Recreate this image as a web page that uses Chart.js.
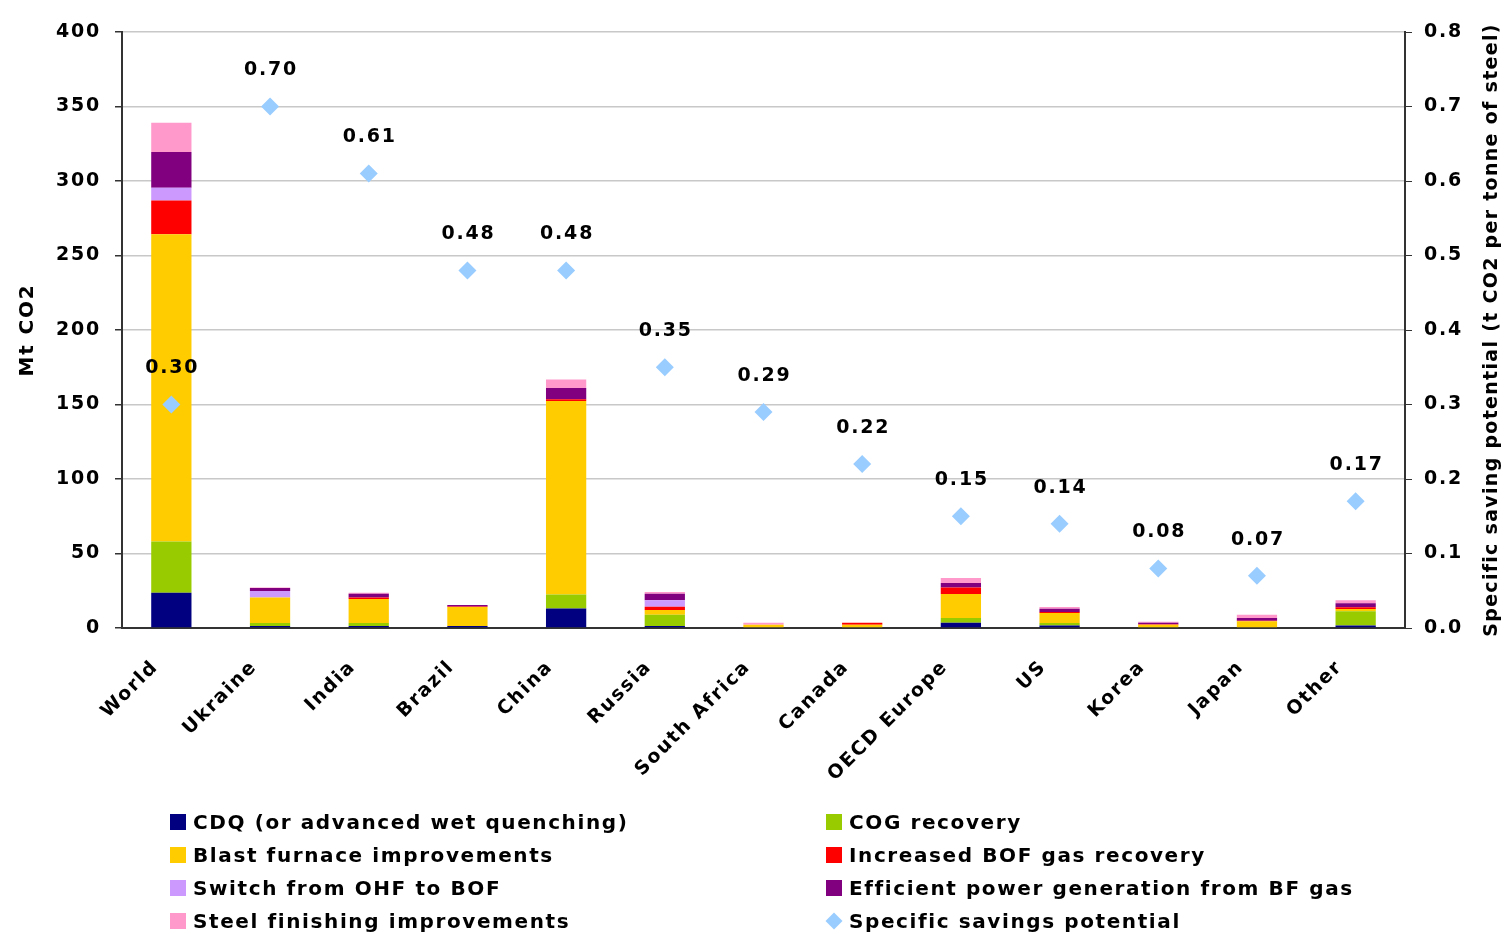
<!DOCTYPE html>
<html>
<head>
<meta charset="utf-8">
<script src="https://cdn.jsdelivr.net/npm/chart.js@4.4.1/dist/chart.umd.min.js"></script>
<style>
  html, body { margin: 0; padding: 0; background: #fff; }
  #wrap { position: relative; width: 1508px; height: 934px; }
  #legend { position: absolute; left: 0; top: 0; width: 1508px; height: 934px; pointer-events: none;
            font-family: "DejaVu Sans", sans-serif; font-weight: bold; font-size: 20px;
            letter-spacing: 1.6px; color: #000; }
  .item { position: absolute; height: 24px; line-height: 24px; white-space: nowrap; }
  .swatch { position: absolute; left: 0; top: 4px; width: 16px; height: 16px; }
  .diamond { position: absolute; left: 2px; top: 6px; width: 12px; height: 12px; transform: rotate(45deg); }
  .item span { position: absolute; left: 23px; top: 0; }
</style>
</head>
<body>
<div id="wrap">
  <canvas id="steelChart"></canvas>
  <div id="legend"></div>
</div>
<script>
const categories = ["World", "Ukraine", "India", "Brazil", "China", "Russia", "South Africa",
  "Canada", "OECD Europe", "US", "Korea", "Japan", "Other"];

// Mt CO2 savings by measure
const cdq          = [23.7, 1.3, 1.3, 1.3, 13.1, 1.3, 0, 0, 3.6, 1.6, 0, 0, 1.6];
const cogRecovery  = [34.3, 2.0, 2.0, 0, 9.4, 7.6, 0, 0, 3.1, 1.8, 0, 0, 9.6];
const blastFurnace = [206.2, 17.2, 16.1, 12.8, 129.8, 3.1, 2.2, 2.2, 16.1, 6.7, 2.2, 4.5, 1.6];
const bofGas       = [22.7, 0, 1.1, 0.4, 1.3, 2.2, 0, 1.3, 4.3, 0.7, 0.3, 0.4, 1.1];
const ohfToBof     = [8.6, 4.3, 0, 0, 0, 4.5, 0, 0, 0, 0, 0, 0, 0];
const bfGasPower   = [23.9, 2.0, 2.5, 0.9, 7.4, 4.3, 0, 0, 3.1, 2.2, 1.0, 1.8, 2.7];
const finishing    = [19.7, 0.4, 0.7, 0, 5.7, 1.1, 1.3, 0, 3.4, 1.1, 0.7, 2.2, 2.0];

// t CO2 per tonne of steel
const specificSavings = [0.30, 0.70, 0.61, 0.48, 0.48, 0.35, 0.29, 0.22, 0.15, 0.14, 0.08, 0.07, 0.17];

const leftTicks = [0, 50, 100, 150, 200, 250, 300, 350, 400];
const rightTicks = [0, 0.1, 0.2, 0.3, 0.4, 0.5, 0.6, 0.7, 0.8];

const FONT = { family: "'DejaVu Sans', sans-serif", size: 19, weight: "bold" };
const AXIS_DARK = "#333333";

function barSet(label, data, color) {
  return {
    type: "bar",
    label: label,
    data: data,
    backgroundColor: color,
    borderWidth: 0,
    yAxisID: "y",
    stack: "measures",
    categoryPercentage: 0.8,
    barPercentage: 0.51,
    order: 1,
  };
}

const steelData = {
  labels: categories,
  datasets: [
    {
      type: "line",
      label: "Specific savings potential",
      data: specificSavings,
      yAxisID: "y2",
      showLine: false,
      pointStyle: "rectRot",
      pointRadius: 9,
      pointBackgroundColor: "#99CCFF",
      pointBorderColor: "#99CCFF",
      pointBorderWidth: 0,
      backgroundColor: "#99CCFF",
      order: 0,
    },
    barSet("CDQ (or advanced wet quenching)", cdq, "#000080"),
    barSet("COG recovery", cogRecovery, "#99CC00"),
    barSet("Blast furnace improvements", blastFurnace, "#FFCC00"),
    barSet("Increased BOF gas recovery", bofGas, "#FF0000"),
    barSet("Switch from OHF to BOF", ohfToBof, "#CC99FF"),
    barSet("Efficient power generation from BF gas", bfGasPower, "#800080"),
    barSet("Steel finishing improvements", finishing, "#FF99CC"),
  ],
};

// wide-spaced lettering for every canvas label
const spacing = {
  id: "spacing",
  beforeDraw(chart) {
    chart.ctx.letterSpacing = "1.8px";
  },
};

// value labels above the diamonds, plus both axis titles
const annotations = {
  id: "annotations",
  afterDatasetsDraw(chart) {
    const ctx = chart.ctx;
    const meta = chart.getDatasetMeta(0);
    ctx.save();
    ctx.font = "bold 19px 'DejaVu Sans', sans-serif";
    ctx.fillStyle = "#000";
    ctx.textAlign = "center";
    ctx.textBaseline = "middle";
    meta.data.forEach((pt, i) => {
      ctx.fillText(specificSavings[i].toFixed(2), pt.x + 1, pt.y - 36);
    });

    ctx.font = "bold 20px 'DejaVu Sans', sans-serif";
    ctx.translate(28, 330);
    ctx.rotate(-Math.PI / 2);
    ctx.fillText("Mt CO2", 0, 0);
    ctx.restore();

    ctx.save();
    ctx.font = "bold 19px 'DejaVu Sans', sans-serif";
    ctx.letterSpacing = "1.3px";
    ctx.fillStyle = "#000";
    ctx.textAlign = "center";
    ctx.textBaseline = "middle";
    ctx.translate(1492, 330);
    ctx.rotate(-Math.PI / 2);
    ctx.fillText("Specific saving potential (t CO2 per tonne of steel)", 0, 0);
    ctx.restore();
  },
};

const steelConfig = {
  data: steelData,
  options: {
    responsive: true,
    maintainAspectRatio: false,
    animation: false,
    layout: { padding: { top: 32, left: 0, right: 0, bottom: 0 } },
    plugins: {
      legend: { display: false },
      tooltip: { enabled: false },
    },
    scales: {
      x: {
        stacked: true,
        grid: { display: false, drawTicks: false },
        border: { display: true, color: AXIS_DARK, width: 2 },
        ticks: { color: "#000", font: FONT, minRotation: 45, maxRotation: 45, padding: 28, labelOffset: -16 },
        afterFit(scale) { scale.height = 306; },
      },
      y: {
        position: "left",
        stacked: true,
        min: 0,
        max: 400,
        afterBuildTicks(scale) { scale.ticks = leftTicks.map(v => ({ value: v })); },
        grid: { color: "#C8C8C8", lineWidth: 1.5, tickColor: AXIS_DARK, tickLength: 7 },
        border: { display: true, color: AXIS_DARK, width: 2 },
        ticks: { color: "#000", font: FONT, padding: 14 },
        afterFit(scale) { scale.width = 122; },
      },
      y2: {
        position: "right",
        min: 0,
        max: 0.8,
        afterBuildTicks(scale) { scale.ticks = rightTicks.map(v => ({ value: v })); },
        grid: { drawOnChartArea: false, tickColor: AXIS_DARK, tickLength: 7 },
        border: { display: true, color: AXIS_DARK, width: 2 },
        ticks: { color: "#000", font: FONT, padding: 12, callback: v => v.toFixed(1) },
        afterFit(scale) { scale.width = 103; },
      },
    },
  },
  plugins: [spacing, annotations],
};

const steelChart = new Chart(document.getElementById("steelChart"), steelConfig);

// two-column legend under the plot
const legendOrder = [
  [1, 170, 822], [2, 826, 822],
  [3, 170, 855], [4, 826, 855],
  [5, 170, 888], [6, 826, 888],
  [7, 170, 921], [0, 826, 921],
];
const legendBox = document.getElementById("legend");
legendOrder.forEach(([idx, x, y]) => {
  const ds = steelData.datasets[idx];
  const item = document.createElement("div");
  item.className = "item";
  item.style.left = x + "px";
  item.style.top = (y - 12) + "px";
  const mark = document.createElement("div");
  mark.className = ds.type === "line" ? "diamond" : "swatch";
  mark.style.background = ds.backgroundColor;
  const text = document.createElement("span");
  text.textContent = ds.label;
  item.appendChild(mark);
  item.appendChild(text);
  legendBox.appendChild(item);
});
</script>
</body>
</html>
